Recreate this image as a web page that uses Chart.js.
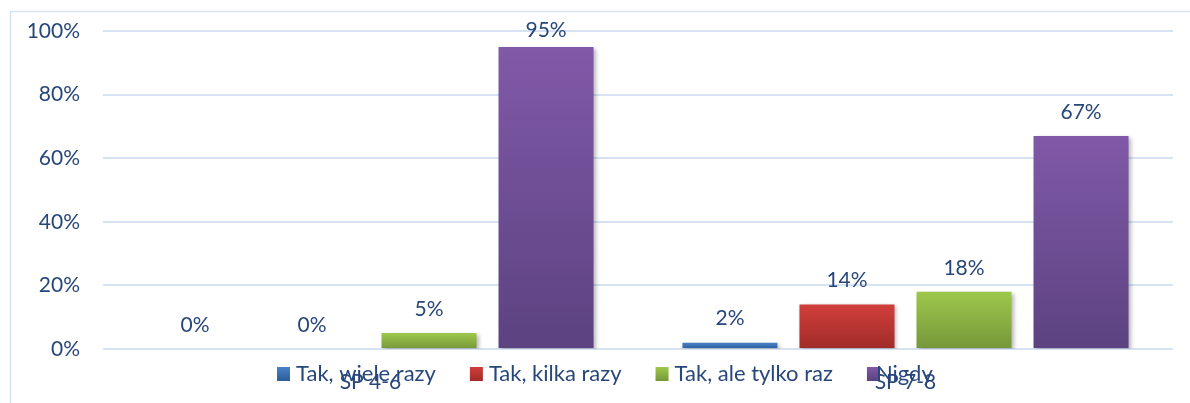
<!DOCTYPE html>
<html>
<head>
<meta charset="utf-8">
<script src="https://cdn.jsdelivr.net/npm/chart.js@4.4.1/dist/chart.umd.min.js"></script>
<style>
  html, body { margin: 0; padding: 0; background: #ffffff; }
  #wrap { width: 1190px; height: 403px; position: relative; }
</style>
</head>
<body>
<div id="wrap"><canvas id="c" width="1190" height="403"></canvas></div>
<script>
// Survey answers by school level (percent of respondents)
const categories = ['SP 4-6', 'SP 7-8'];
const seriesNames = ['Tak, wiele razy', 'Tak, kilka razy', 'Tak, ale tylko raz', 'Nigdy'];
const wieleRazy = [0, 2];
const kilkaRazy = [0, 14];
const tylkoRaz = [5, 18];
const nigdy = [95, 67];
const yTicks = [0, 20, 40, 60, 80, 100];

// top / bottom colours of each bar gradient
const palette = [
  ['#4A82C8', '#2C5C9B'],
  ['#D13F3C', '#A02B28'],
  ['#9DC84B', '#76973A'],
  ['#8059A8', '#5C4280']
];

const TEXT = '#27477A';
const FONT = 'Lato, "Liberation Sans", sans-serif';
const SIZE = 21;
const LEGEND_SIZE = 22;

function barGradient(i) {
  return function (ctx) {
    const chart = ctx.chart;
    const area = chart.chartArea;
    if (!area || ctx.type !== 'data') return palette[i][0];
    const y = chart.scales.y;
    const top = y.getPixelForValue(ctx.raw);
    const bottom = y.getPixelForValue(0);
    if (bottom - top < 1) return palette[i][0];
    const g = chart.ctx.createLinearGradient(0, top, 0, bottom);
    g.addColorStop(0, palette[i][0]);
    g.addColorStop(1, palette[i][1]);
    return g;
  };
}

const values = [wieleRazy, kilkaRazy, tylkoRaz, nigdy];

const frame = {
  id: 'frame',
  beforeDraw(chart) {
    const c = chart.ctx;
    c.save();
    c.strokeStyle = '#D5E1F2';
    c.lineWidth = 1.5;
    c.beginPath();
    c.moveTo(10.5, 420);
    c.lineTo(10.5, 11.5);
    c.lineTo(1200, 11.5);
    c.stroke();
    c.restore();
  }
};

const barShadow = {
  id: 'barShadow',
  beforeDatasetsDraw(chart) {
    const c = chart.ctx;
    c.save();
    c.shadowColor = 'rgba(0,0,0,0.28)';
    c.shadowBlur = 4;
    c.shadowOffsetX = 2;
    c.shadowOffsetY = 2;
  },
  afterDatasetsDraw(chart) {
    chart.ctx.restore();
  }
};

const valueLabels = {
  id: 'valueLabels',
  afterDatasetsDraw(chart) {
    const c = chart.ctx;
    const area = chart.chartArea;
    c.save();
    c.fillStyle = TEXT;
    c.font = SIZE + 'px ' + FONT;
    c.textAlign = 'center';
    c.textBaseline = 'middle';
    chart.data.datasets.forEach((ds, i) => {
      chart.getDatasetMeta(i).data.forEach((bar, j) => {
        const y = Math.max(bar.y - 24, area.top - 1);
        c.fillText(ds.data[j] + '%', bar.x, y);
      });
    });
    c.restore();
  }
};

const bottomLegend = {
  id: 'bottomLegend',
  afterDraw(chart) {
    const c = chart.ctx;
    c.save();
    c.font = LEGEND_SIZE + 'px ' + FONT;
    c.textBaseline = 'middle';
    let x = 277;
    const y = 374;
    chart.data.datasets.forEach((ds, i) => {
      const g = c.createLinearGradient(0, y - 7, 0, y + 7);
      g.addColorStop(0, palette[i][0]);
      g.addColorStop(1, palette[i][1]);
      c.fillStyle = g;
      c.fillRect(x, y - 7, 13, 14);
      c.fillStyle = TEXT;
      const tx = x + (i === 3 ? 9 : 19);
      c.fillText(ds.label, tx, y);
      x = tx + c.measureText(ds.label).width + 34;
    });
    c.restore();
  }
};

new Chart(document.getElementById('c'), {
  type: 'bar',
  data: {
    labels: categories,
    datasets: seriesNames.map((name, i) => ({
      label: name,
      data: values[i],
      backgroundColor: barGradient(i),
      borderWidth: 0,
      categoryPercentage: 0.875,
      barPercentage: 0.812
    }))
  },
  options: {
    responsive: false,
    animation: false,
    layout: { padding: { left: 0, right: 17, top: 31, bottom: 0 } },
    plugins: {
      legend: { display: false },
      tooltip: { enabled: false }
    },
    scales: {
      x: {
        grid: { display: false, drawTicks: false },
        border: { display: false },
        ticks: { color: TEXT, font: { size: SIZE, family: FONT }, padding: 21 },
        afterFit(s) { s.height = 54; s.paddingLeft = 0; s.paddingRight = 0; }
      },
      y: {
        min: 0,
        max: 100,
        afterBuildTicks(s) { s.ticks = yTicks.map(v => ({ value: v })); },
        grid: { color: '#D7E3F3', lineWidth: 2, drawTicks: false },
        border: { display: false },
        ticks: {
          color: TEXT,
          font: { size: SIZE, family: FONT },
          padding: 23,
          callback: v => v + '%'
        },
        afterFit(s) { s.width = 103; s.paddingTop = 0; s.paddingBottom = 0; }
      }
    }
  },
  plugins: [frame, barShadow, valueLabels, bottomLegend]
});
</script>
</body>
</html>
